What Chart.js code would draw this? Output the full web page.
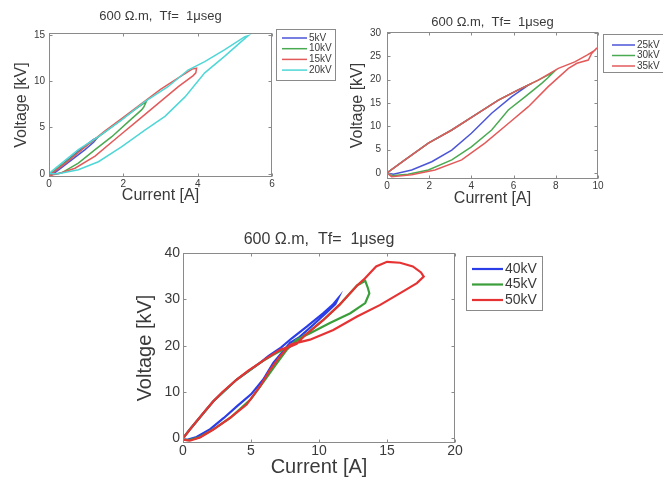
<!DOCTYPE html>
<html>
<head>
<meta charset="utf-8">
<script src="https://cdn.jsdelivr.net/npm/chart.js@4.4.1/dist/chart.umd.min.js"></script>
<style>
  html, body { margin: 0; padding: 0; background: #fff; overflow: hidden; width: 663px; height: 477px; }
  body { position: relative; }
  canvas { position: absolute; display: block; }
</style>
</head>
<body>
<canvas id="p1" width="345" height="210" style="left:0;top:0"></canvas>
<canvas id="p2" width="360" height="210" style="left:340px;top:0"></canvas>
<canvas id="p3" width="420" height="257" style="left:130px;top:220px"></canvas>
<script>
const plotTitle = '600 Ω.m,  Tf=  1μseg';
const xAxisTitle = 'Current [A]';
const yAxisTitle = 'Voltage [kV]';

// ---- panel 1: 5 to 20 kV ----
const labels1 = ['5kV', '10kV', '15kV', '20kV'];
const current5kV  = [0, 0.3, 0.6, 0.9, 1.2, 1.3, 1.2, 0.97, 0.61, 0.25, 0.05];
const voltage5kV  = [-0.2, 0.8, 1.8, 2.8, 3.7, 3.9, 3.4, 2.6, 1.5, 0.4, -0.2];
const current10kV = [0, 0.5, 1.0, 1.5, 2.0, 2.4, 2.62, 2.55, 2.49, 2.13, 1.69, 1.24, 0.79, 0.34, 0.05];
const voltage10kV = [-0.1, 1.4, 3.0, 4.5, 6.0, 7.2, 7.8, 7.2, 6.9, 5.6, 4.0, 2.6, 1.15, 0.1, -0.1];
const current15kV = [0, 0.5, 1.0, 1.5, 2.0, 2.5, 3.0, 3.5, 3.85, 3.97, 3.95, 3.88, 3.48, 2.94, 2.4, 1.86, 1.24, 0.7, 0.25, 0];
const voltage15kV = [-0.2, 1.3, 3.0, 4.6, 6.1, 7.6, 9.1, 10.4, 11.3, 11.4, 10.9, 10.6, 9.4, 7.6, 5.8, 4.0, 1.9, 0.6, 0, -0.2];
const current20kV = [0, 0.07, 0.79, 1.33, 1.95, 2.58, 3.2, 3.74, 4.19, 4.73, 5.27, 5.36, 5.18, 4.73, 4.19, 3.66, 3.12, 2.58, 1.95, 1.33, 0.79, 0.25, 0];
const voltage20kV = [0, 0.25, 2.6, 4.0, 5.8, 7.8, 9.4, 11.2, 12.1, 13.4, 14.8, 14.9, 14.3, 12.7, 10.9, 8.3, 6.2, 4.7, 2.9, 1.3, 0.43, 0, 0];
const ticks1X = [0, 2, 4, 6];
const ticks1Y = [0, 5, 10, 15];

// ---- panel 2: 25 to 35 kV ----
const labels2 = ['25kV', '30kV', '35kV'];
const current25kV = [0, 0.85, 1.96, 3.07, 4.17, 5.28, 6.22, 6.86, 6.7, 5.9, 4.96, 4.0, 3.07, 2.12, 1.17, 0.3, 0];
const voltage25kV = [0, 2.8, 6.4, 9.2, 12.4, 15.6, 17.8, 19.2, 18.8, 16.3, 12.8, 8.5, 4.9, 2.4, 0.64, -0.3, 0];
const current30kV = [0, 0.85, 1.96, 3.07, 4.17, 5.28, 6.22, 7.17, 7.9, 7.6, 7.33, 6.54, 5.75, 4.96, 4.0, 3.07, 1.96, 1.0, 0.2, 0];
const voltage30kV = [0, 2.8, 6.4, 9.2, 12.4, 15.6, 17.8, 19.9, 21.6, 20.3, 19.2, 16.3, 13.5, 9.2, 5.6, 2.8, 0.64, -0.3, -0.6, 0];
const current35kV = [0, 0.85, 1.96, 3.07, 4.17, 5.28, 6.22, 7.17, 8.12, 8.9, 9.5, 9.86, 9.95, 9.7, 9.54, 9.0, 8.6, 7.64, 6.7, 5.75, 4.64, 3.54, 2.27, 1.17, 0.22, 0];
const voltage35kV = [0, 2.8, 6.4, 9.2, 12.4, 15.6, 17.8, 19.9, 22.4, 23.8, 25.3, 26.3, 26.8, 25.6, 24.2, 23.5, 22.4, 18.5, 14.2, 10.6, 6.4, 2.8, 0.64, -0.4, -0.8, 0];
const ticks2X = [0, 2, 4, 6, 8, 10];
const ticks2Y = [0, 5, 10, 15, 20, 25, 30];

// ---- panel 3: 40 to 50 kV ----
const labels3 = ['40kV', '45kV', '50kV'];
const current40kV = [0, 0.5, 2.23, 3.95, 5.66, 6.3, 7.2, 8.0, 9.1, 10.3, 11.0, 11.4, 11.2, 10.5, 9.5, 8.5, 7.87, 6.64, 5.9, 5.0, 4.0, 3.0, 2.0, 1.0, 0.3, 0];
const voltage40kV = [0, 1.9, 8.0, 12.7, 16.3, 17.8, 19.6, 21.6, 24.1, 27.0, 28.8, 30.2, 29.0, 27.0, 24.3, 21.7, 20.6, 16.3, 12.7, 9.5, 7.0, 4.4, 2.0, 0.3, -0.3, -0.2];
const current45kV = [0, 0.5, 2.23, 3.95, 5.66, 6.6, 7.9, 9.2, 10.3, 11.5, 12.8, 13.4, 13.6, 13.7, 13.4, 12.3, 10.8, 9.34, 8.36, 7.6, 6.8, 6.0, 5.0, 3.5, 2.2, 1.2, 0.4, 0];
const voltage45kV = [0, 1.9, 8.0, 12.7, 16.3, 18.0, 20.0, 22.8, 25.5, 28.8, 33.0, 34.0, 32.4, 31.3, 29.2, 27.0, 24.9, 22.7, 21.3, 19.0, 15.8, 12.5, 8.5, 4.5, 1.9, 0.2, -0.4, -0.3];
const current50kV = [0, 0.5, 1.5, 2.23, 2.9, 3.95, 4.8, 5.66, 6.15, 7.13, 7.87, 8.36, 9.0, 10.3, 11.5, 12.8, 13.3, 14.2, 15.0, 15.96, 16.9, 17.5, 17.7, 17.2, 16.0, 14.5, 12.8, 11.05, 9.34, 8.36, 7.87, 7.13, 6.4, 5.66, 4.68, 3.46, 2.23, 1.25, 0.5, 0];
const voltage50kV = [0, 1.9, 5.5, 8.0, 10.0, 12.7, 14.6, 16.3, 17.3, 19.1, 19.8, 20.4, 22.3, 25.5, 28.8, 33.0, 34.3, 37.1, 38.1, 37.9, 37.1, 35.8, 34.9, 33.5, 31.4, 28.8, 26.3, 23.4, 21.3, 20.6, 20.2, 17.7, 14.8, 11.2, 7.3, 4.4, 1.9, 0.2, -0.5, -0.3];
const ticks3X = [0, 5, 10, 15, 20];
const ticks3Y = [0, 10, 20, 30, 40];

const FONT = '"Liberation Sans", Arial, Helvetica, sans-serif';
const TEXT = '#3a3a3a';

const toPoints = (xs, ys) => xs.map((x, i) => ({ x, y: ys[i] }));

// Boxed axes with short inward tick marks on all four sides
const boxFrame = {
  id: 'boxFrame',
  afterDatasetsDraw(chart, args, o) {
    const { ctx, chartArea: a, scales } = chart;
    const L = Math.round(a.left) + 0.5, R = Math.round(a.right) - 0.5;
    const T = Math.round(a.top) + 0.5, B = Math.round(a.bottom) - 0.5;
    ctx.save();
    ctx.strokeStyle = o.color;
    ctx.lineWidth = 1;
    ctx.strokeRect(L, T, R - L, B - T);
    ctx.beginPath();
    scales.x.ticks.forEach(t => {
      const px = Math.round(scales.x.getPixelForValue(t.value)) + 0.5;
      ctx.moveTo(px, B); ctx.lineTo(px, B - o.len);
      ctx.moveTo(px, T); ctx.lineTo(px, T + o.len);
    });
    scales.y.ticks.forEach(t => {
      const py = Math.round(scales.y.getPixelForValue(t.value)) + 0.5;
      ctx.moveTo(L, py); ctx.lineTo(L + o.len, py);
      ctx.moveTo(R, py); ctx.lineTo(R - o.len, py);
    });
    ctx.stroke();
    ctx.restore();
  }
};

// Framed legend placed to the right of the axes
const boxLegend = {
  id: 'boxLegend',
  afterDraw(chart, args, o) {
    const ctx = chart.ctx;
    ctx.save();
    ctx.fillStyle = '#fff';
    ctx.fillRect(o.left, o.top, o.width, o.height);
    ctx.strokeStyle = o.border;
    ctx.lineWidth = 1;
    ctx.strokeRect(o.left + 0.5, o.top + 0.5, o.width, o.height);
    ctx.font = o.font;
    ctx.textAlign = 'left';
    ctx.textBaseline = 'middle';
    chart.data.datasets.forEach((ds, i) => {
      const yy = o.top + o.firstRow + i * o.rowGap;
      ctx.strokeStyle = ds.borderColor;
      ctx.lineWidth = ds.borderWidth;
      ctx.beginPath();
      ctx.moveTo(o.left + o.lineStart, yy);
      ctx.lineTo(o.left + o.lineEnd, yy);
      ctx.stroke();
      ctx.fillStyle = o.color;
      ctx.fillText(ds.label, o.left + o.textStart, yy);
    });
    ctx.restore();
  }
};

function makeChart(id, cfg) {
  const fixedTicks = vals => s => { s.ticks = vals.map(v => ({ value: v })); };
  return new Chart(document.getElementById(id), {
    type: 'scatter',
    data: { datasets: cfg.series.map(s => ({
      label: s.label, data: toPoints(s.xs, s.ys), order: s.order,
      showLine: true, borderColor: s.color, backgroundColor: s.color,
      borderWidth: cfg.lineWidth, pointRadius: 0, tension: 0
    })) },
    options: {
      responsive: false, animation: false, devicePixelRatio: 1, events: [],
      layout: { padding: { left: 0, top: 0, right: cfg.padRight, bottom: 0 } },
      plugins: {
        legend: { display: false },
        tooltip: { enabled: false },
        title: {
          display: true, text: plotTitle, fullSize: false, color: TEXT,
          font: { family: FONT, size: cfg.titleSize, weight: 'normal', lineHeight: 1 },
          padding: cfg.titlePad
        },
        boxFrame: { color: '#8a8a8a', len: 3 },
        boxLegend: cfg.legend
      },
      scales: {
        x: {
          type: 'linear', min: cfg.xMin, max: cfg.xMax,
          afterBuildTicks: fixedTicks(cfg.ticksX),
          afterFit: s => { s.height = cfg.xAxisHeight; },
          grid: { display: false, drawTicks: false }, border: { display: false },
          ticks: { padding: cfg.xTickPad, color: TEXT, maxRotation: 0, font: { family: FONT, size: cfg.tickSize, lineHeight: 1 } },
          title: { display: true, text: xAxisTitle, color: TEXT, padding: { top: 0, bottom: cfg.xTitlePad },
                   font: { family: FONT, size: cfg.axisTitleSize, lineHeight: 1 } }
        },
        y: {
          type: 'linear', min: cfg.yMin, max: cfg.yMax,
          afterBuildTicks: fixedTicks(cfg.ticksY),
          afterFit: s => { s.width = cfg.yAxisWidth; },
          grid: { display: false, drawTicks: false }, border: { display: false },
          ticks: { padding: cfg.yTickPad, color: TEXT, font: { family: FONT, size: cfg.tickSize, lineHeight: 1 } },
          title: { display: true, text: yAxisTitle, color: TEXT, padding: { top: cfg.yTitlePad, bottom: 0 },
                   font: { family: FONT, size: cfg.axisTitleSize, lineHeight: 1 } }
        }
      }
    },
    plugins: [boxFrame, boxLegend]
  });
}

makeChart('p1', {
  series: [
    { label: labels1[0], xs: current5kV,  ys: voltage5kV,  color: '#4b55d6', order: 4 },
    { label: labels1[1], xs: current10kV, ys: voltage10kV, color: '#4aaa52', order: 3 },
    { label: labels1[2], xs: current15kV, ys: voltage15kV, color: '#e35a5a', order: 2 },
    { label: labels1[3], xs: current20kV, ys: voltage20kV, color: '#4fd6d6', order: 1 }
  ],
  lineWidth: 1.5, padRight: 73,
  xMin: 0, xMax: 6, yMin: -0.35, yMax: 15.2, ticksX: ticks1X, ticksY: ticks1Y,
  titleSize: 13, titlePad: { top: 9.5, bottom: 10.5 },
  tickSize: 10, axisTitleSize: 16,
  xAxisHeight: 33, xTickPad: 2, xTitlePad: 6,
  yAxisWidth: 49, yTickPad: 4, yTitlePad: 14,
  legend: { left: 276, top: 29, width: 59, height: 51, firstRow: 9, rowGap: 10.7,
            lineStart: 6, lineEnd: 31, textStart: 33, font: '10px ' + FONT, color: TEXT, border: '#8a8a8a' }
});

makeChart('p2', {
  series: [
    { label: labels2[0], xs: current25kV, ys: voltage25kV, color: '#4b55d6', order: 3 },
    { label: labels2[1], xs: current30kV, ys: voltage30kV, color: '#4aaa52', order: 2 },
    { label: labels2[2], xs: current35kV, ys: voltage35kV, color: '#e35a5a', order: 1 }
  ],
  lineWidth: 1.5, padRight: 102,
  xMin: 0, xMax: 10, yMin: -1.3, yMax: 30.2, ticksX: ticks2X, ticksY: ticks2Y,
  titleSize: 13, titlePad: { top: 16, bottom: 3 },
  tickSize: 10, axisTitleSize: 16,
  xAxisHeight: 31, xTickPad: 2, xTitlePad: 3,
  yAxisWidth: 47, yTickPad: 6, yTitlePad: 10,
  legend: { left: 263, top: 34, width: 80, height: 38, firstRow: 11, rowGap: 10.5,
            lineStart: 9, lineEnd: 32, textStart: 34, font: '10px ' + FONT, color: TEXT, border: '#8a8a8a' }
});

makeChart('p3', {
  series: [
    { label: labels3[0], xs: current40kV, ys: voltage40kV, color: '#2a3de6', order: 3 },
    { label: labels3[1], xs: current45kV, ys: voltage45kV, color: '#3a9e3a', order: 2 },
    { label: labels3[2], xs: current50kV, ys: voltage50kV, color: '#e63232', order: 1 }
  ],
  lineWidth: 2.2, padRight: 95,
  xMin: 0, xMax: 20, yMin: -1, yMax: 40, ticksX: ticks3X, ticksY: ticks3Y,
  titleSize: 16, titlePad: { top: 12, bottom: 5 },
  tickSize: 14, axisTitleSize: 20,
  xAxisHeight: 34, xTickPad: 1, xTitlePad: 0,
  yAxisWidth: 53, yTickPad: 3, yTitlePad: 5,
  legend: { left: 336, top: 36, width: 76, height: 54, firstRow: 13, rowGap: 15.5,
            lineStart: 6, lineEnd: 37, textStart: 39, font: '14px ' + FONT, color: TEXT, border: '#8a8a8a' }
});
</script>
</body>
</html>
